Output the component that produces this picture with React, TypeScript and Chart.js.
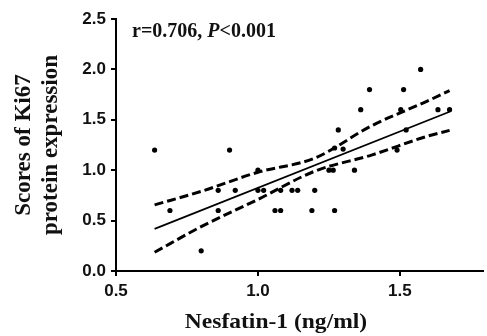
import React, { useEffect, useRef } from "react";
import { Chart, registerables } from "chart.js";

Chart.register(...registerables);

// Scatter data: Nesfatin-1 (ng/ml) vs Ki67 score
const nesfatinX = [
  0.636, 0.69, 0.8, 0.86, 0.86, 0.9, 0.92, 1.0, 1.0, 1.02, 1.06, 1.08, 1.08,
  1.12, 1.14, 1.2, 1.19, 1.27, 1.25, 1.265, 1.34, 1.27, 1.3, 1.49, 1.283,
  1.522, 1.362, 1.503, 1.634, 1.675, 1.393, 1.513, 1.573,
];
const ki67Y = [
  1.2, 0.6, 0.2, 0.8, 0.6, 1.2, 0.8, 1.0, 0.8, 0.8, 0.6, 0.6, 0.8, 0.8, 0.8,
  0.8, 0.6, 0.6, 1.0, 1.0, 1.0, 1.22, 1.21, 1.2, 1.4, 1.4, 1.6, 1.6, 1.6, 1.6,
  1.8, 1.8, 2.0,
];

// Regression line end points
const fitX = [0.636, 1.675];
const fitY = [0.418, 1.58];

// 95% confidence band
const bandX = [0.636, 0.8, 1.0, 1.2, 1.4, 1.6, 1.675];
const bandUpper = [0.656, 0.79, 0.98, 1.12, 1.44, 1.69, 1.79];
const bandLower = [0.186, 0.44, 0.71, 0.99, 1.15, 1.34, 1.395];

const yTicks = [0, 0.5, 1.0, 1.5, 2.0, 2.5];
const xTicks = [0.5, 1.0, 1.5];

const statText = ["r=0.706, ", "P", "<0.001"];
const xTitle = "Nesfatin-1 (ng/ml)";
const yTitle = ["Scores of Ki67", "protein expression"];

const zip = (xs: number[], ys: number[]) => xs.map((x, i) => ({ x, y: ys[i] }));

export default function App() {
  const ref = useRef<HTMLCanvasElement | null>(null);

  useEffect(() => {
    if (!ref.current) return;
    const textPlugin = {
      id: "texts",
      afterDraw(chart: any) {
        const ctx = chart.ctx as CanvasRenderingContext2D;
        ctx.save();
        ctx.fillStyle = "#111";
        ctx.textBaseline = "alphabetic";
        // x title (slightly widened like the reference)
        ctx.save();
        ctx.translate(276, 328);
        ctx.scale(1.12, 1);
        ctx.font = 'bold 21px "Liberation Serif"';
        ctx.textAlign = "center";
        ctx.fillText(xTitle, 0, 0);
        ctx.restore();
        // stats text
        ctx.textAlign = "left";
        let x = 132;
        const yb = 37;
        ctx.font = 'bold 20px "Liberation Serif"';
        ctx.fillText(statText[0], x, yb);
        x += ctx.measureText(statText[0]).width;
        ctx.font = 'italic bold 20px "Liberation Serif"';
        ctx.fillText(statText[1], x, yb);
        x += ctx.measureText(statText[1]).width;
        ctx.font = 'bold 20px "Liberation Serif"';
        ctx.fillText(statText[2], x, yb);
        ctx.restore();
      },
    };

    const chart = new Chart(ref.current, {
      type: "scatter",
      data: {
        datasets: [
          {
            label: "points",
            data: zip(nesfatinX, ki67Y),
            backgroundColor: "#000",
            borderColor: "#000",
            pointRadius: 2.6,
            pointBorderWidth: 0,
          },
          {
            label: "fit",
            data: zip(fitX, fitY),
            showLine: true,
            borderColor: "#000",
            borderWidth: 1.8,
            pointRadius: 0,
          },
          {
            label: "upper",
            data: zip(bandX, bandUpper),
            showLine: true,
            borderColor: "#000",
            borderWidth: 3,
            borderDash: [9, 4],
            pointRadius: 0,
            cubicInterpolationMode: "monotone",
          },
          {
            label: "lower",
            data: zip(bandX, bandLower),
            showLine: true,
            borderColor: "#000",
            borderWidth: 3,
            borderDash: [9, 4],
            pointRadius: 0,
            cubicInterpolationMode: "monotone",
          },
        ] as any,
      },
      options: {
        responsive: false,
        animation: false,
        layout: { padding: { top: 19, right: 0, bottom: 0, left: 0 } },
        plugins: {
          legend: { display: false },
          tooltip: { enabled: false },
        },
        scales: {
          x: {
            type: "linear",
            min: 0.5,
            max: 1.7927,
            afterFit(scale: any) {
              scale.height = 65;
            },
            afterBuildTicks(scale: any) {
              scale.ticks = xTicks.map((v) => ({ value: v }));
            },
            border: { display: true, color: "#000", width: 2 },
            grid: {
              display: true,
              drawOnChartArea: false,
              drawTicks: true,
              tickLength: 5,
              color: "#000",
              lineWidth: 2,
            },
            ticks: {
              padding: 5,
              color: "#111",
              font: { family: "Liberation Sans", weight: "bold", size: 17 },
              callback: (v: any) => Number(v).toFixed(1),
            },
          },
          y: {
            type: "linear",
            min: 0,
            max: 2.5,
            afterFit(scale: any) {
              scale.width = 116;
            },
            afterBuildTicks(scale: any) {
              scale.ticks = yTicks.map((v) => ({ value: v }));
            },
            border: { display: true, color: "#000", width: 2 },
            grid: {
              display: true,
              drawOnChartArea: false,
              drawTicks: true,
              tickLength: 5,
              color: "#000",
              lineWidth: 2,
            },
            ticks: {
              padding: 5,
              color: "#111",
              font: { family: "Liberation Sans", weight: "bold", size: 17 },
              callback: (v: any) => Number(v).toFixed(1),
            },
            title: {
              display: true,
              text: yTitle,
              color: "#111",
              font: { family: "Liberation Serif", weight: "bold", size: 23, lineHeight: 1.2 },
              padding: { top: 10, bottom: 0 },
            },
          },
        },
      },
      plugins: [textPlugin],
    });
    return () => chart.destroy();
  }, []);

  return (
    <div style={{ position: "fixed", left: 0, top: 0, width: 487, height: 336, background: "#fff" }}>
      <canvas ref={ref} width={487} height={336} />
    </div>
  );
}
